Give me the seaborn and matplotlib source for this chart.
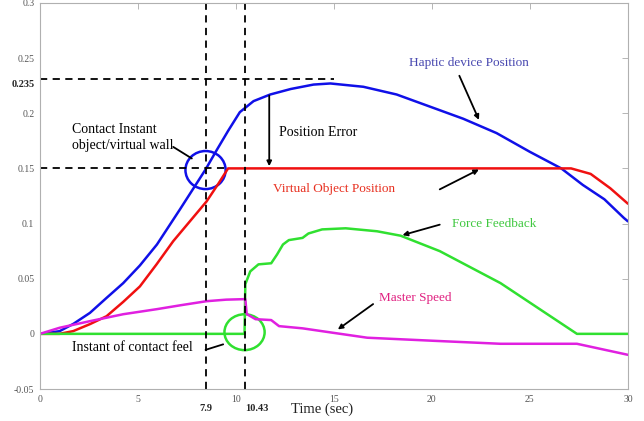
import numpy as np
import pandas as pd
import matplotlib
matplotlib.use('Agg')
import matplotlib.pyplot as plt
import seaborn as sns
from matplotlib.patches import Ellipse
import matplotlib.transforms as mtransforms

# =========================
# DATA
# =========================
t_haptic = [0, 1, 1.7, 2.55, 3.4, 4.25, 5.1, 5.97, 7.15, 8.45, 9.0, 9.6, 10.2,
            10.9, 11.75, 12.8, 13.96, 14.82, 16.5, 18.2, 19.9, 21.6, 23.3, 25.0,
            26.6, 27.7, 28.8, 29.8, 30]
y_haptic = [0, 0.0024, 0.009, 0.019, 0.0326, 0.046, 0.062, 0.081, 0.113, 0.149,
            0.166, 0.184, 0.201, 0.211, 0.217, 0.222, 0.226, 0.227, 0.224, 0.217,
            0.206, 0.195, 0.182, 0.165, 0.150, 0.135, 0.122, 0.105, 0.102]

t_virtual = [0, 1, 1.7, 2.55, 3.4, 4.25, 5.1, 5.95, 6.8, 7.65, 8.5, 9.1, 9.6,
             27.1, 28.1, 29.1, 30]
y_virtual = [0, 0.0, 0.0025, 0.0088, 0.016, 0.029, 0.043, 0.063, 0.084, 0.102,
             0.12, 0.136, 0.15, 0.15, 0.145, 0.132, 0.118]

t_force = [0, 10.44, 10.48, 10.73, 11.15, 11.8, 12.1, 12.4, 12.7, 13.4, 13.7,
           14.4, 15.6, 17.2, 18.4, 20.4, 23.5, 27.4, 30]
y_force = [0, 0, 0.045, 0.0566, 0.063, 0.064, 0.072, 0.081, 0.085, 0.087, 0.091,
           0.0947, 0.0957, 0.093, 0.089, 0.075, 0.046, 0.0, 0.0]

t_speed = [0, 1, 2.55, 4.25, 5.97, 7.2, 8.5, 9.5, 10.48, 10.55, 11.0, 11.8, 12.2,
           13.4, 15.1, 16.7, 20.1, 23.5, 27.4, 30]
y_speed = [0, 0.0055, 0.0115, 0.0178, 0.0224, 0.026, 0.0296, 0.031, 0.0315,
           0.018, 0.0133, 0.0125, 0.007, 0.005, 0.0006, -0.0035, -0.0063, -0.009,
           -0.009, -0.019]

series_names = ['Haptic device Position', 'Virtual Object Position',
                'Force Feedback', 'Master Speed']
series_colors = ['#1010e8', '#f01010', '#30e030', '#e020e0']

x_ticks = [0, 5, 10, 15, 20, 25, 30]
y_ticks = [-0.05, 0, 0.05, 0.1, 0.15, 0.2, 0.25, 0.3]
y_tick_labels = ['-0.05', '0', '0.05', '0.1', '0.15', '0.2', '0.25', '0.3']

# marker lines (placed where they sit in the picture) and their labels
t_contact, t_contact_label = 8.45, '7.9'
t_feel, t_feel_label = 10.44, '10.43'
y_wall = 0.15
y_peak, y_peak_label = 0.231, '0.235'

# =========================
# TABLE
# =========================
frames = []
for name, t, y in zip(series_names,
                      [t_haptic, t_virtual, t_force, t_speed],
                      [y_haptic, y_virtual, y_force, y_speed]):
    frames.append(pd.DataFrame({'time': t, 'value': y, 'series': name}))
df = pd.concat(frames, ignore_index=True)

# =========================
# PLOTTING
# =========================
sns.set_style('white')
plt.rcParams['font.family'] = ['Liberation Serif', 'DejaVu Serif']

fig = plt.figure(figsize=(6.44, 4.21), dpi=100)
ax = fig.add_axes([0.062, 0.076, 0.913, 0.917])

sns.lineplot(data=df, x='time', y='value', hue='series',
             palette=dict(zip(series_names, series_colors)),
             estimator=None, sort=False, linewidth=1.8, legend=False, ax=ax)

ax.set_xlim(0, 30)
ax.set_ylim(-0.05, 0.3)
ax.set_xticks(x_ticks)
ax.set_xticklabels([str(v) for v in x_ticks])
ax.set_yticks(y_ticks)
ax.set_yticklabels(y_tick_labels)
ax.tick_params(direction='in', top=True, right=True, length=4, width=0.6,
               color='#aaaaaa', labelsize=7, labelcolor='#555555', pad=4)
for s in ax.spines.values():
    s.set_color('#b0b0b0')
    s.set_linewidth(0.8)

ax.set_xlabel('Time (sec)', fontsize=10.5, color='#222222')
ax.xaxis.set_label_coords(0.48, -0.035)
ax.set_ylabel('')

# dashed guide lines
dash = dict(color='black', linestyle=(0, (4, 3)), linewidth=1.3)
ax.axvline(t_contact, **dash)
ax.axvline(t_feel, **dash)
ax.plot([0, 9.6], [y_wall, y_wall], **dash)
ax.plot([0, 15.0], [y_peak, y_peak], **dash)

# bold labels for guide lines
xt = mtransforms.blended_transform_factory(ax.transData, ax.transAxes)
yt = mtransforms.blended_transform_factory(ax.transAxes, ax.transData)
ax.text(t_contact, -0.04, t_contact_label, transform=xt, ha='center', va='top',
        fontsize=7.5, fontweight='bold')
ax.text(t_feel + 0.05, -0.04, t_feel_label, transform=xt, ha='left', va='top',
        fontsize=7.5, fontweight='bold')
ax.text(-0.008, y_peak - 0.005, y_peak_label, transform=yt, ha='right', va='center',
        fontsize=7.5, fontweight='bold')

# circles
ax.add_patch(Ellipse((t_contact, 0.1485), 2.05, 0.0345, fill=False,
                     edgecolor='#1010e8', linewidth=1.8))
ax.add_patch(Ellipse((t_feel, 0.0015), 2.05, 0.0325, fill=False,
                     edgecolor='#30e030', linewidth=1.8))

# annotations
arrow = dict(arrowstyle='-|>', color='black', lw=1.3, mutation_scale=7,
             shrinkA=0, shrinkB=0)
line = dict(arrowstyle='-', color='black', lw=1.3, shrinkA=0, shrinkB=0)

ax.text(21.9, 0.2455, 'Haptic device Position', color='#4848b0', fontsize=9.5,
        ha='center', va='center')
ax.annotate('', xy=(22.4, 0.194), xytext=(21.4, 0.234), arrowprops=arrow)

ax.text(12.2, 0.1825, 'Position Error', color='black', fontsize=10,
        ha='left', va='center')
ax.annotate('', xy=(11.7, 0.152), xytext=(11.7, 0.216), arrowprops=arrow)

ax.text(11.9, 0.131, 'Virtual Object Position', color='#e83020', fontsize=9.5,
        ha='left', va='center')
ax.annotate('', xy=(22.4, 0.149), xytext=(20.4, 0.131), arrowprops=arrow)

ax.text(21.0, 0.1, 'Force Feedback', color='#40c840', fontsize=9.5,
        ha='left', va='center')
ax.annotate('', xy=(18.5, 0.0895), xytext=(20.4, 0.099), arrowprops=arrow)

ax.text(19.15, 0.0325, 'Master Speed', color='#e02080', fontsize=9.5,
        ha='center', va='center')
ax.annotate('', xy=(15.2, 0.004), xytext=(17.0, 0.027), arrowprops=arrow)

ax.text(1.65, 0.1855, 'Contact Instant', color='black', fontsize=10,
        ha='left', va='center')
ax.text(1.65, 0.1705, 'object/virtual wall', color='black', fontsize=10,
        ha='left', va='center')
ax.annotate('', xy=(7.75, 0.159), xytext=(6.8, 0.1695), arrowprops=line)

ax.text(1.65, -0.0125, 'Instant of contact feel', color='black', fontsize=10,
        ha='left', va='center')
ax.annotate('', xy=(9.35, -0.0095), xytext=(8.45, -0.0145), arrowprops=line)

fig.savefig('out.png', dpi=100)
